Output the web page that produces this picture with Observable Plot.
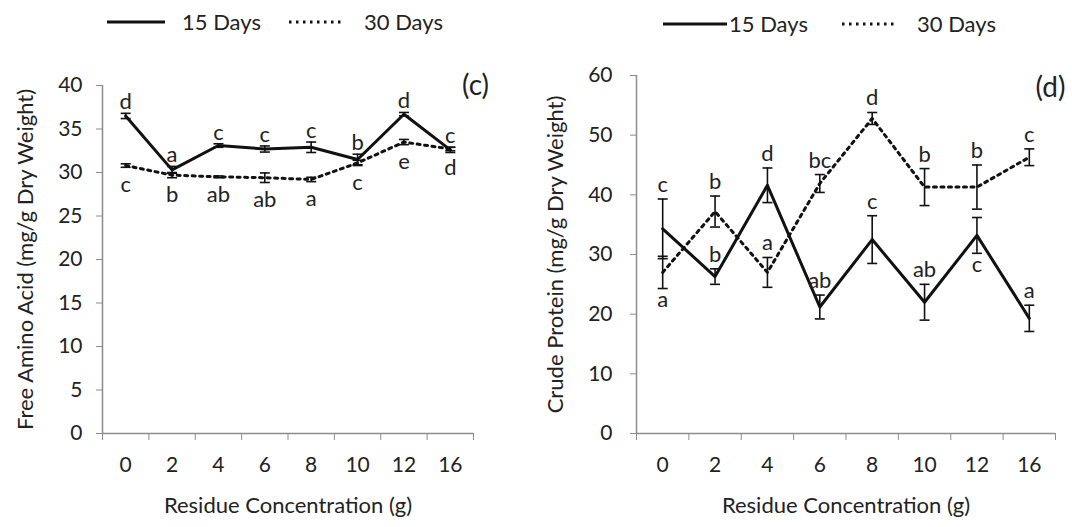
<!DOCTYPE html>
<html><head><meta charset="utf-8">
<script src="https://cdn.jsdelivr.net/npm/d3@7"></script>
<script src="https://cdn.jsdelivr.net/npm/@observablehq/plot@0.6"></script>
<style>
body{margin:0;background:#fff;font-family:Lato,sans-serif;}
#wrap{display:flex;width:1072px;height:527px;overflow:hidden;}
.panel{width:536px;position:relative;}
.legend{height:44px;position:relative;font-size:22px;color:#222;}
.legend svg,.legend span{position:absolute;}
.legend span{line-height:1;transform:translateY(-50%);}
</style></head><body><div id="wrap"></div>
<script>
// ---- data ----
const concentrations = ["0","2","4","6","8","10","12","16"];
const seriesNames = ["15 Days","30 Days"];

const aminoMean15 = [36.5, 30.3, 33.1, 32.7, 32.9, 31.5, 36.7, 32.6];
const aminoErr15  = [0.3, 0.4, 0.2, 0.35, 0.6, 0.6, 0.2, 0.3];
const aminoMean30 = [30.8, 29.7, 29.5, 29.4, 29.2, 31.1, 33.5, 32.7];
const aminoErr30  = [0.2, 0.3, 0.1, 0.55, 0.25, 0.3, 0.3, 0.2];
const aminoLetters15 = ["d","a","c","c","c","b","d","c"];
const aminoLetters30 = ["c","b","ab","ab","a","c","e","d"];

const proteinMean15 = [34.3, 26.3, 41.6, 21.2, 32.5, 22.0, 33.2, 19.3];
const proteinErr15  = [5.0, 1.3, 2.9, 2.0, 4.0, 3.0, 3.0, 2.2];
const proteinMean30 = [27.0, 37.2, 27.0, 41.9, 52.8, 41.3, 41.3, 46.3];
const proteinErr30  = [2.7, 2.6, 2.5, 1.5, 1.0, 3.1, 3.7, 1.4];
const proteinLetters15 = ["c","b","d","ab","c","ab","c","a"];
const proteinLetters30 = ["a","b","a","bc","d","b","b","c"];

const aminoTicks = [0,5,10,15,20,25,30,35,40];
const proteinTicks = [0,10,20,30,40,50,60];

// ---- label placement (layout) ----
const aminoSide15 = ["above","above","above","above","above","above","above","above"];
const aminoSide30 = ["below","below","below","below","below","below","below","below"];
const proteinSide15 = ["above","above","above","above","above","above","below","above"];
const proteinSide30 = ["below","above","above","above","above","above","above","above"];

const capSymbol = {draw(ctx, size){ const w = Math.sqrt(size/Math.PI); ctx.moveTo(-w,0); ctx.lineTo(w,0);} };

function makePanel(o){
  const rows = [];
  concentrations.forEach((c,i)=>{
    rows.push({i, c, s: seriesNames[0], v:o.mean15[i], e:o.err15[i], letter:o.let15[i], side:o.side15[i]});
    rows.push({i, c, s: seriesNames[1], v:o.mean30[i], e:o.err30[i], letter:o.let30[i], side:o.side30[i]});
  });
  const n = concentrations.length;
  const bounds = d3.range(n+1).map(k=>k-0.5);
  const centers = d3.range(n);
  const yMax = d3.max(o.ticks);
  return Plot.plot({
    width: 536, height: 483,
    marginLeft: o.mL, marginRight: o.mR, marginTop: o.mT, marginBottom: 94,
    style: {fontFamily: "Lato, sans-serif", fontSize: "21px", color: "#222", background: "white", overflow: "visible"},
    x: {domain: [-0.5, n-0.5]},
    y: {domain: [0, yMax]},
    marks: [
      Plot.ruleY([0], {stroke: "#8c8c8c", strokeWidth: 1.5}),
      Plot.ruleX([-0.5], {stroke: "#8c8c8c", strokeWidth: 1.5}),
      Plot.axisY({ticks: o.ticks, tickSize: 6, tickPadding: o.yPad, stroke: "#8c8c8c", fill: "#222", fontSize: 21, label: null}),
      Plot.axisX({ticks: bounds, tickSize: 7, tickFormat: () => "", stroke: "#8c8c8c", label: null}),
      Plot.axisX({ticks: centers, tickSize: 0, tickPadding: 24, tickFormat: i => concentrations[i], fill: "#222", fontSize: 21, label: null}),
      Plot.text([o.yLabel], {frameAnchor: "left", textAnchor: "middle", rotate: -90, dx: o.yLabelDx, fontSize: 22, fill: "#222"}),
      Plot.text(["Residue Concentration (g)"], {frameAnchor: "bottom", dy: 79, fontSize: 22, fill: "#222"}),
      Plot.text([o.tag], {frameAnchor: "top-right", textAnchor: "middle", dx: o.tagDx, dy: o.tagDy, fontSize: 28, fill: "#222"}),
      Plot.line(rows.filter(d=>d.s===seriesNames[1]), {x:"i", y:"v", stroke:"#111", strokeWidth:3, strokeDasharray:"3,4.5"}),
      Plot.line(rows.filter(d=>d.s===seriesNames[0]), {x:"i", y:"v", stroke:"#111", strokeWidth:3}),
      Plot.ruleX(rows, {x:"i", y1:d=>d.v-d.e, y2:d=>d.v+d.e, stroke:"#111", strokeWidth:1.6}),
      Plot.dot(rows, {x:"i", y:d=>d.v+d.e, symbol:capSymbol, r:5, stroke:"#111", strokeWidth:1.6, fill:"none"}),
      Plot.dot(rows, {x:"i", y:d=>d.v-d.e, symbol:capSymbol, r:5, stroke:"#111", strokeWidth:1.6, fill:"none"}),
      Plot.text(rows.filter(d=>d.side==="above"), {x:"i", y:d=>d.v+d.e, text:"letter", lineAnchor:"bottom", dy:o.dyAbove, fontSize:22, fill:"#222"}),
      Plot.text(rows.filter(d=>d.side==="below"), {x:"i", y:d=>d.v-d.e, text:"letter", lineAnchor:"top", dy:o.dyBelow, fontSize:22, fill:"#222"})
    ]
  });
}

function legend(pos){
  const div = document.createElement("div");
  div.className = "legend";
  const sw = (x1, x2, y, dash) => {
    const s = d3.create("svg").attr("width", x2-x1).attr("height", 6)
      .style("left", x1+"px").style("top", (y-3)+"px");
    s.append("line").attr("x1",0).attr("x2",x2-x1).attr("y1",3).attr("y2",3)
      .attr("stroke","#111").attr("stroke-width",3).attr("stroke-dasharray", dash ? "2.5,4.5" : null);
    div.appendChild(s.node());
  };
  const lab = (x, y, t) => { const s = document.createElement("span"); s.textContent = t; s.style.left = x+"px"; s.style.top = y+"px"; div.appendChild(s); };
  sw(pos.a1, pos.a2, pos.y, false); lab(pos.t1, pos.y, seriesNames[0]);
  sw(pos.b1, pos.b2, pos.y, true);  lab(pos.t2, pos.y, seriesNames[1]);
  return div;
}

const wrap = document.getElementById("wrap");
const p1 = document.createElement("div"); p1.className = "panel";
p1.appendChild(legend({a1:107, a2:165, t1:182, b1:289, b2:344, t2:364, y:22}));
p1.appendChild(makePanel({mean15:aminoMean15, err15:aminoErr15, mean30:aminoMean30, err30:aminoErr30,
  let15:aminoLetters15, let30:aminoLetters30, side15:aminoSide15, side30:aminoSide30,
  ticks:aminoTicks, yLabel:"Free Amino Acid (mg/g Dry Weight)", tag:"(c)",
  mL:102, mR:63, mT:41, yPad:14, yLabelDx:-77, tagDx:2, tagDy:-10, dyAbove:-4, dyBelow:9}));
const p2 = document.createElement("div"); p2.className = "panel";
p2.appendChild(legend({a1:127, a2:191, t1:193, b1:306, b2:360, t2:381, y:24}));
p2.appendChild(makePanel({mean15:proteinMean15, err15:proteinErr15, mean30:proteinMean30, err30:proteinErr30,
  let15:proteinLetters15, let30:proteinLetters30, side15:proteinSide15, side30:proteinSide30,
  ticks:proteinTicks, yLabel:"Crude Protein (mg/g Dry Weight)", tag:"(d)",
  mL:100, mR:17, mT:31, yPad:18, yLabelDx:-81, tagDx:-5, tagDy:2, dyAbove:-7, dyBelow:3}));
wrap.appendChild(p1); wrap.appendChild(p2);
</script></body></html>
